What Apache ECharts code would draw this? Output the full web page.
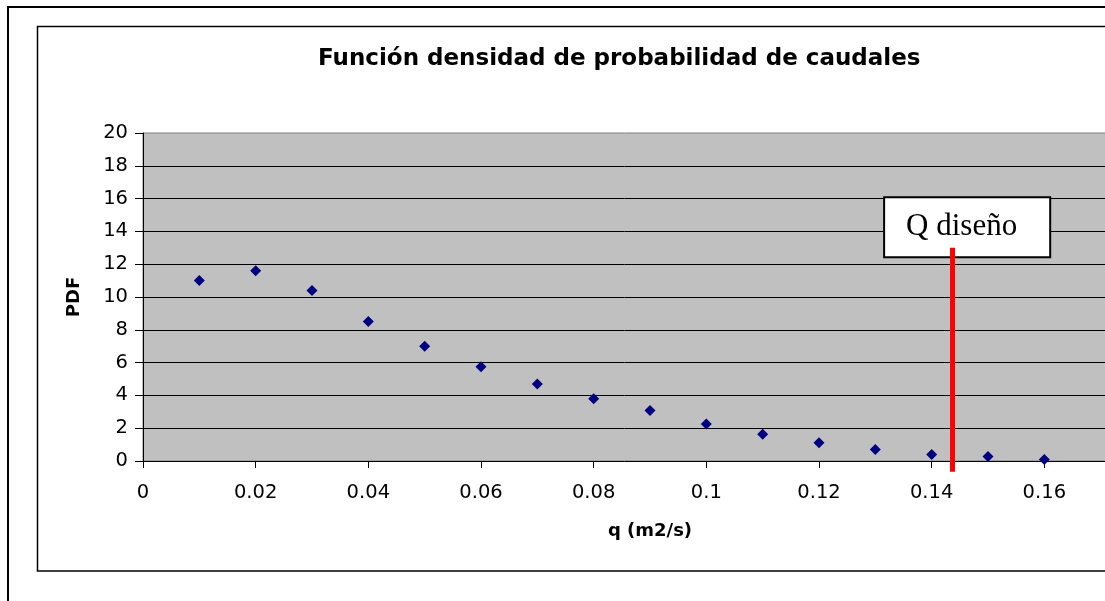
<!DOCTYPE html>
<html>
<head>
<meta charset="utf-8">
<script src="https://cdn.jsdelivr.net/npm/echarts@6/dist/echarts.min.js"></script>
<style>
html,body{margin:0;padding:0;background:#ffffff;}
#chart{width:1105px;height:601px;}
</style>
</head>
<body>
<div id="chart"></div>
<script>
// ---- data ----
const titleText = 'Función densidad de probabilidad de caudales';
const xAxisName = 'q (m2/s)';
const yAxisName = 'PDF';
const qValues   = [0.01, 0.02, 0.03, 0.04, 0.05, 0.06, 0.07, 0.08, 0.09, 0.10, 0.11, 0.12, 0.13, 0.14, 0.15, 0.16];
const pdfValues = [11.0, 11.6, 10.4, 8.5, 7.0, 5.75, 4.7, 3.8, 3.08, 2.25, 1.63, 1.12, 0.7, 0.39, 0.28, 0.09];
const xTicks = { min: 0, max: 0.18, step: 0.02 };
const yTicks = { min: 0, max: 20, step: 2 };
const qDesign = 0.1437;            // design discharge marker
const qDesignSpan = [13.0, -0.65]; // vertical extent of the red line (PDF units)
const designLabel = 'Q diseño';
const designLabelAt = [0.1463, 14.25];

const points = qValues.map((q, i) => [q, pdfValues[i]]);

const chart = echarts.init(document.getElementById('chart'), null, { renderer: 'canvas' });
const sans = 'DejaVu Sans';

chart.setOption({
  animation: false,
  backgroundColor: '#ffffff',
  title: {
    text: titleText,
    left: 318,
    top: 48,
    padding: 0,
    textStyle: { fontFamily: sans, fontWeight: 'bold', fontSize: 23, color: '#000000' }
  },
  grid: {
    left: 143,
    top: 133,
    width: 1014,
    height: 328,
    containLabel: false,
    outerBoundsMode: 'none',
    show: true,
    backgroundColor: '#C0C0C0',
    borderColor: '#808080',
    borderWidth: 1
  },
  xAxis: {
    type: 'value',
    min: xTicks.min,
    max: xTicks.max,
    interval: xTicks.step,
    name: xAxisName,
    nameLocation: 'middle',
    nameGap: 61,
    nameTextStyle: { fontFamily: sans, fontWeight: 'bold', fontSize: 18, color: '#000000' },
    axisLine: { show: true, lineStyle: { color: '#000000', width: 1 } },
    axisTick: { show: true, length: 7, lineStyle: { color: '#000000' } },
    axisLabel: { fontFamily: sans, fontSize: 19.5, color: '#000000', margin: 22 },
    splitLine: { show: false }
  },
  yAxis: {
    type: 'value',
    min: yTicks.min,
    max: yTicks.max,
    interval: yTicks.step,
    name: yAxisName,
    nameLocation: 'middle',
    nameGap: 60,
    nameTextStyle: { fontFamily: sans, fontWeight: 'bold', fontSize: 18, color: '#000000' },
    axisLine: { show: true, lineStyle: { color: '#000000', width: 1 } },
    axisTick: { show: true, length: 8, lineStyle: { color: '#000000' } },
    axisLabel: { fontFamily: sans, fontSize: 19.5, color: '#000000', margin: 15 },
    splitLine: { show: true, showMinLine: false, showMaxLine: false, lineStyle: { color: '#000000', width: 1 } }
  },
  graphic: [
    { type: 'rect', silent: true, z: -10, shape: { x: 8, y: 7, width: 1300, height: 800 },
      style: { fill: 'none', stroke: '#000000', lineWidth: 2 } },
    { type: 'rect', silent: true, z: -10, shape: { x: 37.5, y: 26.5, width: 1300, height: 544.5 },
      style: { fill: 'none', stroke: '#000000', lineWidth: 1.5 } }
  ],
  series: [
    {
      name: 'PDF',
      type: 'scatter',
      data: points,
      symbol: 'diamond',
      symbolSize: 11,
      itemStyle: { color: '#000080', opacity: 1 },
      z: 3
    },
    {
      name: 'label',
      type: 'scatter',
      data: [designLabelAt],
      symbolSize: 0,
      silent: true,
      z: 4,
      itemStyle: { opacity: 1 },
      label: {
        show: true,
        position: 'inside',
        formatter: designLabel,
        fontFamily: 'Liberation Serif',
        fontSize: 31,
        lineHeight: 32,
        color: '#000000',
        opacity: 1,
        backgroundColor: '#ffffff',
        borderColor: '#000000',
        borderWidth: 2,
        padding: [13, 32, 13, 21]
      }
    },
    {
      name: 'Q diseño',
      type: 'line',
      data: [[qDesign, qDesignSpan[0]], [qDesign, qDesignSpan[1]]],
      showSymbol: false,
      symbol: 'none',
      clip: false,
      lineStyle: { color: '#FF0000', width: 5 },
      z: 10,
      zlevel: 1
    }
  ]
});
</script>
</body>
</html>
